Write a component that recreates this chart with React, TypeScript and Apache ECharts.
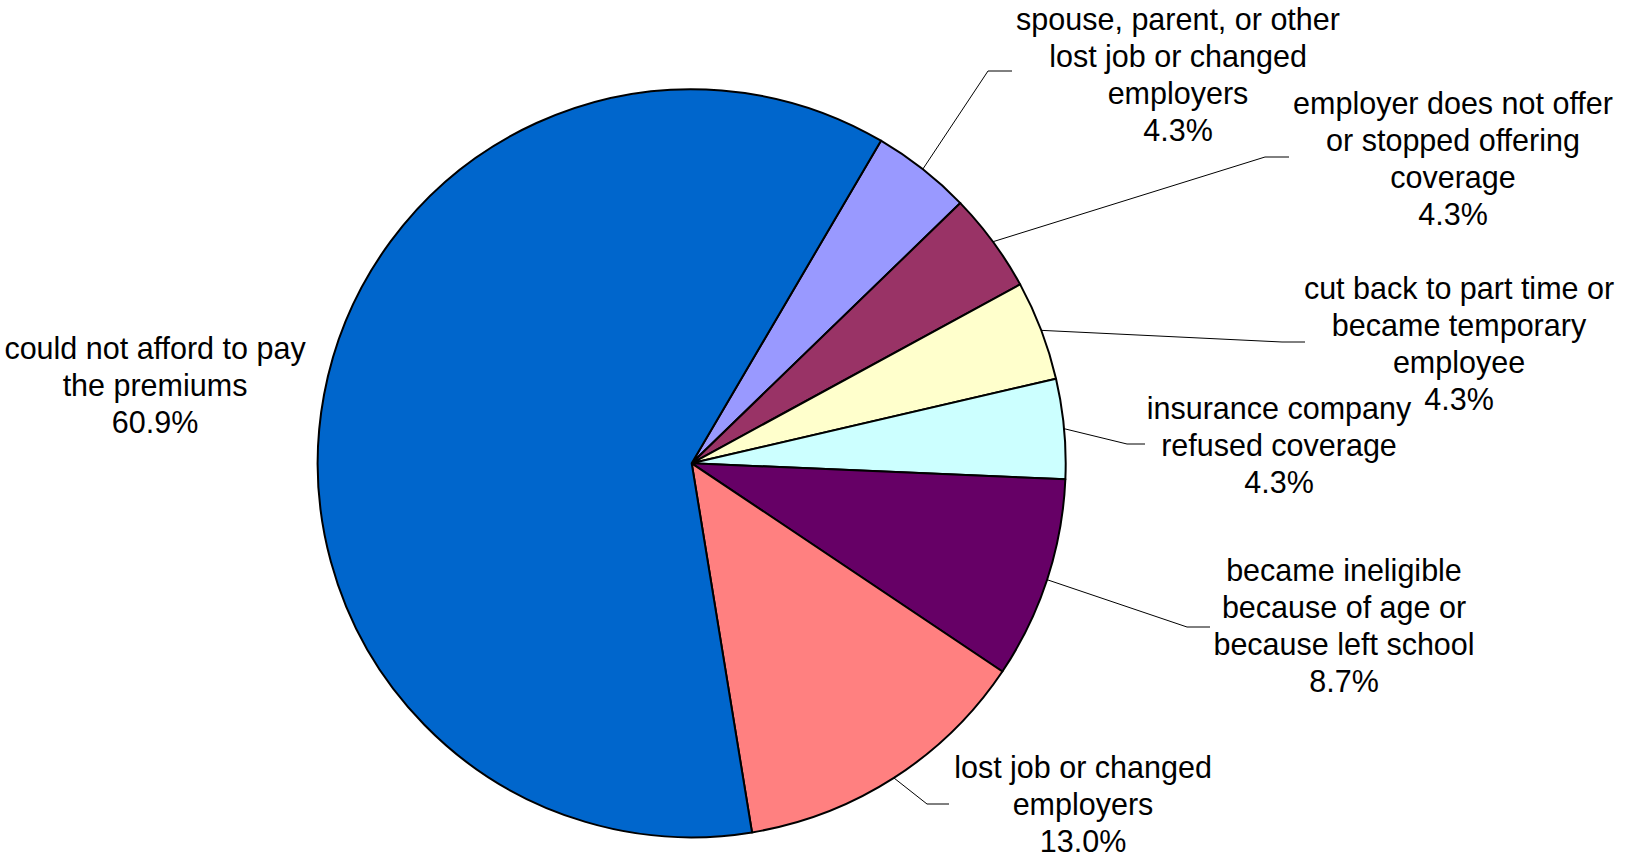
import React, { useEffect, useRef } from "react";
import * as echarts from "echarts";

// Reasons (clockwise from the top-right boundary of the largest slice)
const categories: string[] = [
  "spouse, parent, or other\nlost job or changed\nemployers",
  "employer does not offer\nor stopped offering\ncoverage",
  "cut back to part time or\nbecame temporary\nemployee",
  "insurance company\nrefused coverage",
  "became ineligible\nbecause of age or\nbecause left school",
  "lost job or changed\nemployers",
  "could not afford to pay\nthe premiums",
];

// Percent of respondents
const values: number[] = [4.3, 4.3, 4.3, 4.3, 8.7, 13.0, 60.9];

const colors: string[] = [
  "#9999FF",
  "#993366",
  "#FFFFCC",
  "#CCFFFF",
  "#660066",
  "#FF8080",
  "#0066CC",
];

// Label layout (block centre, leader-line elbow and end), in pixels
const labelX: number[] = [1178, 1453, 1459, 1279, 1344, 1083, 155];
const labelY: number[] = [74, 158, 343, 445, 625, 804, 385];
const elbowX: number[] = [988, 1265, 1282, 1127, 1187, 927, 0];
const lineEndX: number[] = [1012, 1289, 1305, 1145, 1210, 949, 0];
const lineY: number[] = [71, 157, 342, 444, 627, 804, 0];
const showLine: boolean[] = [true, true, true, true, true, true, false];

export default function App() {
  const ref = useRef<HTMLDivElement | null>(null);

  useEffect(() => {
    document.body.style.margin = "0";
    if (!ref.current) return;
    const chart = echarts.init(ref.current, null, { renderer: "svg" });

    const data = categories.map((name, i) => ({
      name,
      value: values[i],
      itemStyle: { color: colors[i] },
      labelLine: { show: showLine[i] },
    }));

    chart.setOption({
      animation: false,
      backgroundColor: "#ffffff",
      series: [
        {
          type: "pie",
          center: [691.7, 463.3],
          radius: 374,
          startAngle: 59.6,
          clockwise: true,
          silent: true,
          avoidLabelOverlap: false,
          data,
          itemStyle: { borderColor: "#000000", borderWidth: 2 },
          emphasis: { disabled: true },
          label: {
            show: true,
            position: "outside",
            color: "#000000",
            fontFamily: "'Liberation Sans', Arial, sans-serif",
            fontSize: 30.5,
            lineHeight: 37,
            align: "center",
            formatter: (p: any) => `${p.name}\n${Number(p.value).toFixed(1)}%`,
          },
          labelLine: {
            show: true,
            length: 20,
            length2: 20,
            lineStyle: { color: "#000000", width: 1 },
          },
          labelLayout: (params: any) => {
            const i = params.dataIndex;
            const res: any = {
              x: labelX[i],
              y: labelY[i],
              align: "center",
              verticalAlign: "middle",
            };
            if (showLine[i] && params.labelLinePoints && params.labelLinePoints.length) {
              const p0 = params.labelLinePoints[0];
              res.labelLinePoints = [
                [p0[0], p0[1]],
                [elbowX[i], lineY[i]],
                [lineEndX[i], lineY[i]],
              ];
            }
            return res;
          },
        },
      ],
    });

    return () => {
      chart.dispose();
    };
  }, []);

  return (
    <div
      ref={ref}
      style={{ position: "absolute", left: 0, top: 0, width: 1628, height: 857 }}
    />
  );
}
